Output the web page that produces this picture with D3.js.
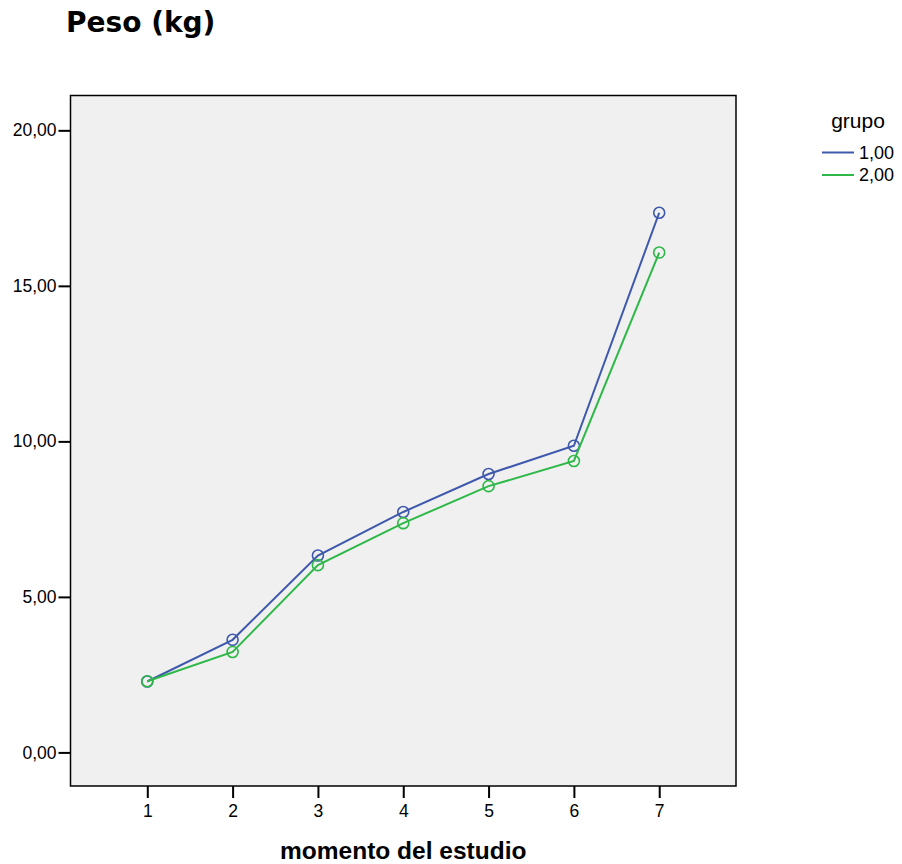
<!DOCTYPE html>
<html lang="es">
<head>
<meta charset="UTF-8">
<title>Peso (kg)</title>
<style>
  body { margin: 0; background: #fff; }
</style>
</head>
<body>
<script src="https://cdn.jsdelivr.net/npm/d3@7"></script>
<script>
// data
const moments = [1, 2, 3, 4, 5, 6, 7]
const grupo1 = [2.28, 3.62, 6.33, 7.73, 8.95, 9.86, 17.35]
const grupo2 = [2.29, 3.23, 6.02, 7.37, 8.56, 9.37, 16.07]
const groupNames = ["1,00", "2,00"]
const yTicks = [0, 5, 10, 15, 20]

const width = 902, height = 864
const frame = {left: 70.5, right: 736, top: 95.5, bottom: 786}
const colors = ["#3e58ac", "#2eb848"]
const sans = "Liberation Sans, Arial, sans-serif"

const svg = d3.select("body").append("svg")
  .attr("width", width)
  .attr("height", height)
  .style("font-family", sans)

const x = d3.scaleLinear().domain([0.1, 7.9]).range([frame.left, frame.right])
const y = d3.scaleLinear().domain([-1.08, 21.12]).range([frame.bottom, frame.top])

// plot background + border
svg.append("rect")
  .attr("x", frame.left).attr("y", frame.top)
  .attr("width", frame.right - frame.left)
  .attr("height", frame.bottom - frame.top)
  .attr("fill", "#f0f0f0")
  .attr("stroke", "#000").attr("stroke-width", 1.5)

const fmt = d => d3.format(".2f")(d).replace(".", ",")

// y axis
const yAxis = svg.append("g")
  .attr("transform", "translate(" + frame.left + ",0)")
  .call(d3.axisLeft(y).tickValues(yTicks).tickSize(12).tickPadding(2).tickFormat(fmt))
yAxis.select(".domain").remove()
yAxis.selectAll("line").attr("stroke", "#000").attr("stroke-width", 2)
yAxis.selectAll("text").attr("font-size", 17.5).attr("fill", "#000")
  .attr("font-family", sans)

// x axis
const xAxis = svg.append("g")
  .attr("transform", "translate(0," + frame.bottom + ")")
  .call(d3.axisBottom(x).tickValues(moments).tickSize(12).tickPadding(7).tickFormat(d3.format("d")))
xAxis.select(".domain").remove()
xAxis.selectAll("line").attr("stroke", "#000").attr("stroke-width", 2)
xAxis.selectAll("text").attr("font-size", 17.5).attr("fill", "#000")
  .attr("font-family", sans)

// lines + circles
const series = [grupo1, grupo2]
const line = d3.line().x((d, i) => x(moments[i])).y(d => y(d))

series.forEach((s, k) => {
  svg.append("path")
    .datum(s)
    .attr("d", line)
    .attr("fill", "none")
    .attr("stroke", colors[k])
    .attr("stroke-width", 2)
  svg.append("g").selectAll("circle")
    .data(s)
    .enter().append("circle")
    .attr("cx", (d, i) => x(moments[i]))
    .attr("cy", d => y(d))
    .attr("r", 5.5)
    .attr("fill", "none")
    .attr("stroke", colors[k])
    .attr("stroke-width", 1.6)
})

// title
svg.append("text")
  .attr("x", 66).attr("y", 32)
  .style("font-family", "DejaVu Sans, Verdana, sans-serif")
  .attr("font-weight", "bold")
  .attr("font-size", 28)
  .text("Peso (kg)")

// x axis title
svg.append("text")
  .attr("x", (frame.left + frame.right) / 2).attr("y", 859)
  .attr("text-anchor", "middle")
  .attr("font-weight", "bold")
  .attr("font-size", 24.5)
  .text("momento del estudio")

// legend
svg.append("text")
  .attr("x", 858).attr("y", 128)
  .attr("text-anchor", "middle")
  .attr("font-size", 21)
  .text("grupo")

const leg = svg.append("g").selectAll("g")
  .data(groupNames)
  .enter().append("g")
  .attr("transform", (d, i) => "translate(822," + (152.5 + i * 22.5) + ")")
leg.append("line")
  .attr("x1", 0).attr("x2", 32)
  .attr("stroke", (d, i) => colors[i]).attr("stroke-width", 2)
leg.append("text")
  .attr("x", 37).attr("dy", "0.36em")
  .attr("font-size", 18)
  .text(d => d)
</script>
</body>
</html>
